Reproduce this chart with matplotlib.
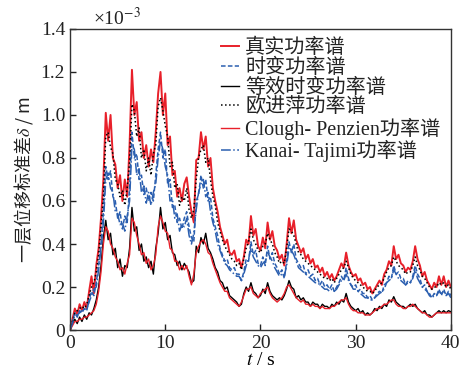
import numpy as np
import matplotlib
matplotlib.use("Agg")
import matplotlib.pyplot as plt
from matplotlib.ticker import FuncFormatter

plt.rcParams['font.family'] = ['Liberation Serif', 'Noto Sans CJK SC']
plt.rcParams['mathtext.fontset'] = 'stix'

# standard deviation of storey-1 displacement, units 1e-3 m, sampled every 0.25 s
t = np.arange(0, 40.001, 0.25)

true_psd = [
    0.00, 0.05, 0.10, 0.07, 0.12, 0.09, 0.13, 0.10, 0.18, 0.25, 0.17, 0.30,
    0.38, 0.52, 0.70, 1.01, 0.88, 1.00, 0.80, 0.77, 0.66, 0.72, 0.60, 0.70,
    0.62, 0.86, 1.21, 1.00, 1.06, 0.88, 0.92, 0.80, 0.86, 0.76, 0.84, 0.78,
    0.92, 1.10, 1.20, 1.00, 1.10, 0.86, 0.90, 0.72, 0.74, 0.62, 0.66, 0.60,
    0.68, 0.71, 0.62, 0.55, 0.50, 0.79, 0.80, 0.92, 0.84, 0.90, 0.76, 0.80,
    0.66, 0.60, 0.55, 0.48, 0.44, 0.40, 0.42, 0.36, 0.35, 0.37, 0.32, 0.33,
    0.29, 0.34, 0.42, 0.40, 0.53, 0.44, 0.47, 0.39, 0.37, 0.43, 0.38, 0.50,
    0.42, 0.46, 0.39, 0.37, 0.33, 0.35, 0.30, 0.40, 0.52, 0.45, 0.51, 0.42,
    0.39, 0.36, 0.38, 0.33, 0.35, 0.31, 0.33, 0.29, 0.30, 0.27, 0.29, 0.25,
    0.27, 0.24, 0.26, 0.23, 0.25, 0.28, 0.31, 0.29, 0.36, 0.30, 0.27, 0.25,
    0.26, 0.23, 0.24, 0.21, 0.22, 0.19, 0.20, 0.17, 0.19, 0.21, 0.23, 0.21,
    0.26, 0.28, 0.32, 0.30, 0.39, 0.33, 0.35, 0.31, 0.30, 0.27, 0.29, 0.28,
    0.32, 0.39, 0.33, 0.30, 0.25, 0.27, 0.23, 0.21, 0.19, 0.22, 0.20, 0.25,
    0.21, 0.25, 0.20, 0.23, 0.20]

tv_psd = [
    0.00, 0.04, 0.08, 0.06, 0.09, 0.08, 0.10, 0.09, 0.14, 0.18, 0.16, 0.22,
    0.30, 0.40, 0.55, 0.76, 0.70, 0.74, 0.62, 0.60, 0.52, 0.55, 0.47, 0.53,
    0.50, 0.66, 0.92, 0.80, 0.82, 0.70, 0.72, 0.63, 0.66, 0.60, 0.64, 0.60,
    0.72, 0.84, 0.92, 0.80, 0.84, 0.68, 0.70, 0.57, 0.58, 0.50, 0.52, 0.47,
    0.52, 0.55, 0.48, 0.43, 0.41, 0.60, 0.63, 0.72, 0.66, 0.70, 0.60, 0.62,
    0.52, 0.48, 0.44, 0.38, 0.35, 0.32, 0.33, 0.29, 0.28, 0.29, 0.26, 0.26,
    0.23, 0.27, 0.33, 0.32, 0.41, 0.35, 0.37, 0.31, 0.30, 0.34, 0.30, 0.39,
    0.33, 0.36, 0.31, 0.29, 0.26, 0.28, 0.24, 0.32, 0.41, 0.36, 0.40, 0.33,
    0.31, 0.29, 0.30, 0.26, 0.28, 0.25, 0.26, 0.23, 0.24, 0.21, 0.23, 0.20,
    0.21, 0.19, 0.21, 0.18, 0.20, 0.22, 0.25, 0.23, 0.29, 0.24, 0.21, 0.20,
    0.21, 0.18, 0.19, 0.17, 0.17, 0.15, 0.16, 0.14, 0.15, 0.17, 0.18, 0.17,
    0.21, 0.22, 0.25, 0.24, 0.30, 0.26, 0.27, 0.24, 0.24, 0.21, 0.23, 0.22,
    0.25, 0.30, 0.26, 0.24, 0.20, 0.21, 0.18, 0.17, 0.15, 0.17, 0.16, 0.19,
    0.16, 0.19, 0.16, 0.18, 0.16]

eq_tv_psd = [
    0.00, 0.03, 0.05, 0.03, 0.06, 0.04, 0.07, 0.05, 0.08, 0.07, 0.10, 0.14,
    0.20, 0.30, 0.43, 0.51, 0.42, 0.45, 0.35, 0.38, 0.29, 0.33, 0.25, 0.30,
    0.29, 0.38, 0.57, 0.46, 0.48, 0.37, 0.40, 0.32, 0.34, 0.29, 0.32, 0.26,
    0.38, 0.45, 0.57, 0.47, 0.50, 0.42, 0.44, 0.36, 0.35, 0.30, 0.32, 0.28,
    0.31, 0.29, 0.27, 0.22, 0.23, 0.39, 0.36, 0.43, 0.40, 0.45, 0.38, 0.36,
    0.33, 0.29, 0.27, 0.23, 0.22, 0.19, 0.20, 0.16, 0.15, 0.14, 0.13, 0.11,
    0.12, 0.17, 0.20, 0.18, 0.22, 0.18, 0.17, 0.15, 0.16, 0.19, 0.17, 0.22,
    0.18, 0.16, 0.15, 0.14, 0.15, 0.14, 0.16, 0.19, 0.23, 0.20, 0.19, 0.15,
    0.16, 0.14, 0.15, 0.13, 0.13, 0.11, 0.13, 0.12, 0.12, 0.10, 0.12, 0.11,
    0.11, 0.10, 0.12, 0.11, 0.13, 0.12, 0.14, 0.13, 0.17, 0.13, 0.11, 0.10,
    0.09, 0.10, 0.08, 0.09, 0.07, 0.08, 0.07, 0.08, 0.10, 0.09, 0.11, 0.10,
    0.12, 0.11, 0.14, 0.13, 0.155, 0.13, 0.12, 0.11, 0.11, 0.10, 0.11, 0.12,
    0.11, 0.12, 0.10, 0.09, 0.08, 0.09, 0.07, 0.07, 0.06, 0.07, 0.08, 0.09,
    0.08, 0.09, 0.08, 0.09, 0.085]

ou_psd = [
    0.00, 0.04, 0.08, 0.09, 0.10, 0.11, 0.10, 0.12, 0.16, 0.20, 0.22, 0.27,
    0.35, 0.48, 0.62, 0.90, 0.92, 0.85, 0.82, 0.70, 0.68, 0.62, 0.65, 0.58,
    0.66, 0.78, 1.05, 1.02, 0.90, 0.94, 0.80, 0.84, 0.74, 0.80, 0.72, 0.82,
    0.86, 1.04, 1.08, 1.02, 0.95, 0.90, 0.76, 0.78, 0.66, 0.68, 0.58, 0.62,
    0.60, 0.66, 0.56, 0.52, 0.56, 0.70, 0.80, 0.84, 0.86, 0.78, 0.80, 0.70,
    0.62, 0.58, 0.50, 0.46, 0.42, 0.39, 0.37, 0.35, 0.33, 0.32, 0.30, 0.31,
    0.28, 0.33, 0.38, 0.41, 0.47, 0.42, 0.40, 0.37, 0.36, 0.39, 0.40, 0.45,
    0.42, 0.40, 0.36, 0.34, 0.31, 0.32, 0.31, 0.38, 0.47, 0.46, 0.44, 0.40,
    0.36, 0.35, 0.33, 0.32, 0.31, 0.30, 0.29, 0.28, 0.27, 0.26, 0.25, 0.24,
    0.24, 0.23, 0.24, 0.22, 0.24, 0.26, 0.28, 0.29, 0.32, 0.29, 0.26, 0.24,
    0.23, 0.22, 0.21, 0.20, 0.19, 0.18, 0.18, 0.17, 0.18, 0.20, 0.21, 0.22,
    0.24, 0.27, 0.29, 0.30, 0.34, 0.32, 0.30, 0.29, 0.28, 0.26, 0.27, 0.27,
    0.30, 0.34, 0.30, 0.28, 0.25, 0.24, 0.22, 0.20, 0.19, 0.20, 0.20, 0.22,
    0.21, 0.22, 0.20, 0.21, 0.19]

cp_psd = [
    0.00, 0.02, 0.04, 0.04, 0.05, 0.05, 0.06, 0.06, 0.07, 0.08, 0.09, 0.12,
    0.18, 0.27, 0.40, 0.48, 0.46, 0.40, 0.38, 0.34, 0.32, 0.28, 0.29, 0.26,
    0.31, 0.35, 0.52, 0.50, 0.44, 0.40, 0.35, 0.36, 0.31, 0.33, 0.28, 0.30,
    0.35, 0.48, 0.53, 0.50, 0.46, 0.45, 0.38, 0.37, 0.32, 0.32, 0.28, 0.30,
    0.28, 0.30, 0.25, 0.21, 0.26, 0.36, 0.39, 0.41, 0.42, 0.40, 0.36, 0.35,
    0.31, 0.28, 0.25, 0.22, 0.20, 0.18, 0.18, 0.15, 0.14, 0.13, 0.12, 0.11,
    0.13, 0.16, 0.19, 0.19, 0.20, 0.17, 0.16, 0.15, 0.17, 0.18, 0.19, 0.20,
    0.17, 0.15, 0.14, 0.13, 0.14, 0.15, 0.17, 0.20, 0.21, 0.19, 0.17, 0.15,
    0.14, 0.13, 0.14, 0.12, 0.12, 0.11, 0.12, 0.11, 0.11, 0.10, 0.11, 0.10,
    0.10, 0.10, 0.11, 0.11, 0.12, 0.13, 0.14, 0.14, 0.15, 0.12, 0.10, 0.09,
    0.09, 0.08, 0.08, 0.08, 0.07, 0.07, 0.07, 0.08, 0.09, 0.10, 0.10, 0.11,
    0.12, 0.12, 0.13, 0.14, 0.14, 0.12, 0.11, 0.11, 0.10, 0.10, 0.11, 0.11,
    0.12, 0.11, 0.10, 0.09, 0.08, 0.08, 0.07, 0.06, 0.06, 0.07, 0.08, 0.08,
    0.08, 0.08, 0.08, 0.08, 0.08]

kt_psd = [
    0.00, 0.03, 0.07, 0.07, 0.08, 0.09, 0.09, 0.10, 0.13, 0.16, 0.19, 0.20,
    0.28, 0.38, 0.50, 0.70, 0.73, 0.66, 0.64, 0.55, 0.54, 0.49, 0.50, 0.46,
    0.53, 0.60, 0.86, 0.84, 0.72, 0.75, 0.64, 0.67, 0.59, 0.64, 0.58, 0.64,
    0.68, 0.80, 0.88, 0.84, 0.76, 0.72, 0.60, 0.61, 0.52, 0.54, 0.46, 0.49,
    0.48, 0.52, 0.44, 0.40, 0.45, 0.56, 0.64, 0.68, 0.70, 0.62, 0.64, 0.55,
    0.50, 0.46, 0.40, 0.37, 0.34, 0.31, 0.30, 0.28, 0.27, 0.26, 0.25, 0.25,
    0.23, 0.26, 0.30, 0.33, 0.38, 0.34, 0.32, 0.30, 0.29, 0.31, 0.32, 0.36,
    0.34, 0.32, 0.29, 0.27, 0.25, 0.26, 0.25, 0.30, 0.38, 0.37, 0.35, 0.32,
    0.29, 0.28, 0.27, 0.26, 0.25, 0.24, 0.23, 0.22, 0.22, 0.21, 0.20, 0.19,
    0.19, 0.18, 0.19, 0.18, 0.19, 0.21, 0.23, 0.23, 0.26, 0.23, 0.21, 0.19,
    0.19, 0.18, 0.17, 0.16, 0.15, 0.15, 0.14, 0.14, 0.15, 0.16, 0.17, 0.18,
    0.19, 0.22, 0.23, 0.24, 0.28, 0.26, 0.24, 0.23, 0.22, 0.21, 0.22, 0.22,
    0.24, 0.28, 0.24, 0.22, 0.20, 0.19, 0.18, 0.16, 0.15, 0.16, 0.16, 0.18,
    0.17, 0.18, 0.16, 0.17, 0.15]

red = '#e8202a'
blue = '#2b5fb0'

fig = plt.figure(figsize=(4.61, 3.86), dpi=100)
ax = fig.add_axes([0.152, 0.145, 0.826, 0.78])

ax.plot(t, true_psd, color=red, lw=1.4, label='真实功率谱')
ax.plot(t, tv_psd, color=blue, lw=1.1, ls=(0, (3, 1.5)), label='时变功率谱')
ax.plot(t, eq_tv_psd, color='black', lw=1.0, label='等效时变功率谱')
ax.plot(t, ou_psd, color='black', lw=1.1, ls=':', label='欧进萍功率谱')
ax.plot(t, cp_psd, color=red, lw=1.0, label='Clough- Penzien功率谱')
ax.plot(t, kt_psd, color=blue, lw=1.1, ls='-.', label='Kanai- Tajimi功率谱')

ax.set_xlim(0, 40)
ax.set_ylim(0, 1.4)
ax.set_xticks([0, 10, 20, 30, 40])
ax.set_yticks(np.arange(0, 1.41, 0.2))
ax.yaxis.set_major_formatter(FuncFormatter(lambda v, p: '0' if v == 0 else '%.1f' % v))
ax.tick_params(direction='in', labelsize=14, length=4, width=1, colors='#222222')
for s in ax.spines.values():
    s.set_linewidth(1.0)
    s.set_color('#333333')

ax.set_xlabel('$t$ / s', fontsize=14, labelpad=0)
ax.set_ylabel('一层位移标准差$\\delta$ / m', fontsize=13, labelpad=4,
              family='Noto Sans CJK SC', color='#222222')
ax.text(0.06, 1.0, '×10$^{-3}$', transform=ax.transAxes, fontsize=14,
        ha='left', va='bottom', color='#222222')

leg = ax.legend(loc='upper left', bbox_to_anchor=(0.37, 1.0), frameon=False,
                fontsize=14.5, handlelength=0.9, handletextpad=0.3,
                labelspacing=0.02, borderaxespad=0.1)
for txt in leg.get_texts():
    txt.set_color('#222222')

fig.savefig('out.png', dpi=100)
